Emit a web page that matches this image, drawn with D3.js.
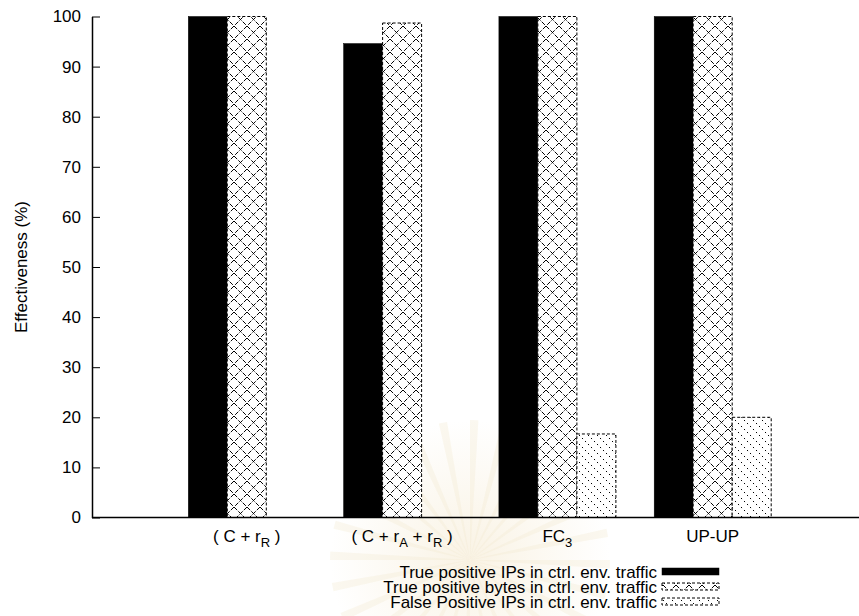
<!DOCTYPE html>
<html>
<head>
<meta charset="utf-8">
<script src="https://cdn.jsdelivr.net/npm/d3@7"></script>
<style>
  html, body { margin: 0; padding: 0; background: #fff; }
  svg { display: block; font-family: "Liberation Sans", Arial, sans-serif; }
</style>
</head>
<body>
<svg id="chart" width="859" height="616"></svg>
<script>
// Methods compared (the label parts: [text, subscript] pairs)
const categories = ["C+rR", "C+rA+rR", "FC3", "UP-UP"];
const categoryLabels = [
  [["( C + r", ""], ["R", "sub"], [" )", ""]],
  [["( C + r", ""], ["A", "sub"], [" + r", ""], ["R", "sub"], [" )", ""]],
  [["FC", ""], ["3", "sub"]],
  [["UP-UP", ""]]
];
const seriesNames = [
  "True positive IPs in ctrl. env. traffic",
  "True positive bytes in ctrl. env. traffic",
  "False Positive IPs in ctrl. env. traffic"
];
const truePositiveIPs   = [100, 94.6, 100, 100];
const truePositiveBytes = [100, 98.7, 100, 100];
const falsePositiveIPs  = [0, 0, 16.67, 20];
const yTicks = [0, 10, 20, 30, 40, 50, 60, 70, 80, 90, 100];

const seriesValues = [truePositiveIPs, truePositiveBytes, falsePositiveIPs];
const FONT = 17;

const svg = d3.select("#chart");
const defs = svg.append("defs");

// Cross-hatch fill for the "bytes" series (dash lengths tile the diagonal evenly)
const CH = 13, chDiag = CH * Math.SQRT2;
const cross = defs.append("pattern")
  .attr("id", "crossHatch").attr("patternUnits", "userSpaceOnUse")
  .attr("width", CH).attr("height", CH);
cross.append("rect").attr("width", CH).attr("height", CH).attr("fill", "#fff");
cross.append("path").attr("d", `M0,0 L${CH},${CH} M${CH},0 L0,${CH}`)
  .attr("stroke", "#000").attr("stroke-width", 1)
  .attr("stroke-dasharray", `${chDiag / 3 - 1.6},1.6`);

// Dotted diagonal fill for the false-positive series
const DG = 9, dgDiag = DG * Math.SQRT2;
const diag = defs.append("pattern")
  .attr("id", "diagDots").attr("patternUnits", "userSpaceOnUse")
  .attr("width", DG).attr("height", DG);
diag.append("rect").attr("width", DG).attr("height", DG).attr("fill", "#fff");
diag.append("path").attr("d", `M0,0 L${DG},${DG}`)
  .attr("stroke", "#000").attr("stroke-width", 1)
  .attr("stroke-dasharray", `1.5,${dgDiag / 3 - 1.5}`);

const fills = ["#000", "url(#crossHatch)", "url(#diagDots)"];
const dashes = [null, "3,2", "3,2"];

// Faint background emblem
const glow = defs.append("radialGradient").attr("id", "emblemGlow");
glow.append("stop").attr("offset", "0%").attr("stop-color", "#f2e3c2").attr("stop-opacity", 0.45);
glow.append("stop").attr("offset", "100%").attr("stop-color", "#f2e3c2").attr("stop-opacity", 0);
const emblem = svg.append("g").attr("transform", "translate(470,560)");
emblem.append("circle").attr("r", 140).attr("fill", "url(#emblemGlow)");
d3.range(28).forEach(i => {
  const a0 = (i / 28) * 2 * Math.PI, a1 = a0 + 0.06;
  emblem.append("path")
    .attr("d", `M0,0 L${140 * Math.cos(a0)},${140 * Math.sin(a0)} L${140 * Math.cos(a1)},${140 * Math.sin(a1)} Z`)
    .attr("fill", "#f3e7cc").attr("opacity", 0.3);
});

// Scales
const y = d3.scaleLinear().domain([0, 100]).range([517.5, 16.5]);
const x = d3.scaleBand().domain(categories)
  .range([188.3, 188.3 + 4 * 155.3 - 38.3]).paddingInner(38.3 / 155.3).paddingOuter(0);
const xs = d3.scaleBand().domain(d3.range(seriesNames.length)).range([0, x.bandwidth()]);

// Bars
seriesValues.forEach((vals, s) => {
  svg.append("g").selectAll("rect").data(categories).join("rect")
    .attr("x", c => x(c) + xs(s))
    .attr("y", (c, i) => y(vals[i]))
    .attr("width", xs.bandwidth())
    .attr("height", (c, i) => y(0) - y(vals[i]))
    .attr("fill", fills[s])
    .attr("stroke", "#000")
    .attr("stroke-width", s === 0 ? 0.5 : 1)
    .attr("stroke-dasharray", dashes[s])
    .attr("display", (c, i) => vals[i] > 0 ? null : "none");
});

// Y axis, ticks pointing into the plot
const yAxis = svg.append("g").attr("transform", "translate(92,0)")
  .call(d3.axisLeft(y).tickValues(yTicks).tickSizeInner(-8).tickSizeOuter(0).tickPadding(11));
yAxis.select(".domain").attr("stroke-width", 1.5);
yAxis.selectAll(".tick line").attr("stroke-width", 1);
yAxis.selectAll(".tick text").attr("font-size", FONT).attr("fill", "#000")
  .attr("font-family", "Liberation Sans, Arial, sans-serif");

// X axis baseline
svg.append("line").attr("x1", 92).attr("x2", 859).attr("y1", y(0)).attr("y2", y(0))
  .attr("stroke", "#000").attr("stroke-width", 1.5);

// Category labels, centred on each cluster's middle bar
categoryLabels.forEach((parts, i) => {
  const t = svg.append("text")
    .attr("x", x(categories[i]) + xs(1) + xs.bandwidth() / 2)
    .attr("y", 542).attr("text-anchor", "middle").attr("font-size", FONT);
  let lowered = false;
  parts.forEach(([txt, kind]) => {
    const sp = t.append("tspan").text(txt);
    if (kind === "sub") { sp.attr("font-size", 13).attr("dy", 5); lowered = true; }
    else if (lowered) { sp.attr("dy", -5); lowered = false; }
  });
});

// Y label
svg.append("text").attr("transform", "translate(27,267) rotate(-90)")
  .attr("text-anchor", "middle").attr("font-size", FONT).text("Effectiveness (%)");

// Legend
const legendRight = 657, rowY = [571.5, 586.5, 601.5];
seriesNames.forEach((name, s) => {
  svg.append("text").attr("x", legendRight).attr("y", rowY[s] + 6)
    .attr("text-anchor", "end").attr("font-size", FONT).text(name);
  svg.append("rect").attr("x", legendRight + 5).attr("y", rowY[s] - 3.5)
    .attr("width", 57).attr("height", 7)
    .attr("fill", fills[s]).attr("stroke", "#000")
    .attr("stroke-width", s === 0 ? 0.5 : 1).attr("stroke-dasharray", dashes[s]);
});
</script>
</body>
</html>
